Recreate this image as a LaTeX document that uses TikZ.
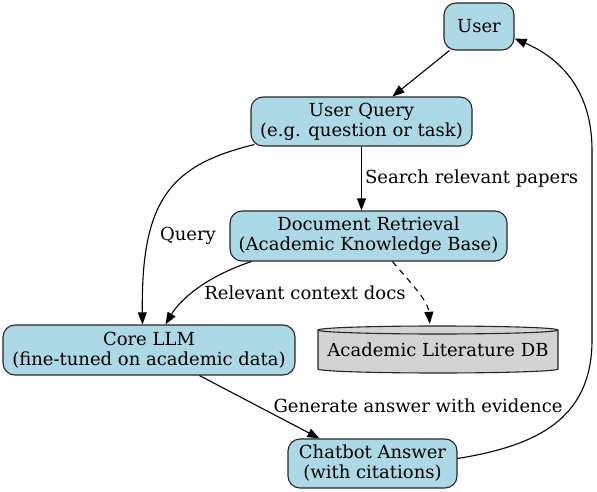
\documentclass[tikz,border=0pt]{standalone}
\usepackage{fontspec}
\setmainfont{DejaVu Serif}
\usetikzlibrary{arrows.meta,calc}
\definecolor{boxblue}{HTML}{ADD8E6}
\definecolor{dbgray}{HTML}{D3D3D3}
\begin{document}
\begin{tikzpicture}[x=1pt,y=-1pt,
  box/.style={draw=black!85,fill=boxblue,line width=1.1pt,rounded corners=12pt,inner sep=0pt,align=center,font=\fontsize{18}{20}\selectfont},
  lbl/.style={font=\fontsize{18}{20}\selectfont,inner sep=0pt},
  arr/.style={line width=1.1pt,-{Triangle[length=12pt,width=9pt]}}]
\useasboundingbox[fill=white] (0,0) rectangle (597,492);
\node[box,minimum width=70pt,minimum height=47pt] (user) at (479,26.5) {User};
\node[box,minimum width=221pt,minimum height=49pt] (uq) at (361.5,121.5) {User Query\\(e.g. question or task)};
\node[box,minimum width=277pt,minimum height=50pt] (dr) at (368.5,236) {Document Retrieval\\(Academic Knowledge Base)};
\node[box,minimum width=292pt,minimum height=50pt] (llm) at (149,350) {Core LLM\\(fine-tuned on academic data)};
\node[box,minimum width=169pt,minimum height=49pt] (ans) at (372.5,463.5) {Chatbot Answer\\(with citations)};
% cylinder
\path[draw=black!85,fill=dbgray,line width=1.1pt] (318,330) -- (318,369) arc[start angle=180,end angle=0,x radius=120,y radius=4] -- (558,330) arc[start angle=0,end angle=-180,x radius=120,y radius=4] -- cycle;
\draw[black!85,line width=1.1pt] (318,330) arc[start angle=180,end angle=0,x radius=120,y radius=4];
\node[lbl,minimum width=240pt,minimum height=46pt] (db) at (438,350) {Academic Literature DB};
% edges
\draw[arr] ($(user.south west)+(6,0)$) -- ($(uq.north west)+(142,0)$);
\draw[arr] (uq.south) -- (uq.south |- dr.north) node[lbl,midway,right,xshift=3pt] (l1) {Search relevant papers};
\draw[arr] ($(uq.south west)+(4,-2)$) .. controls (170,165) and (141,200) .. ($(llm.north west)+(140,0)$);
\node[lbl] (l2) at (188,236) {Query};
\draw[arr] ($(dr.south west)+(22,0)$) .. controls (205,277) and (180,300) .. ($(llm.north west)+(163,0)$);
\node[lbl] (l3) at (305,293) {Relevant context docs};
\draw[arr,dashed,dash pattern=on 6pt off 5pt] ($(dr.south west)+(163,0)$) .. controls (408,280) and (428,300) .. ($(db.north west)+(112,-3)$);
\draw[arr] ($(llm.south west)+(197,0)$) -- ($(ans.north west)+(32,0)$);
\node[lbl] (l4) at (418,406) {Generate answer with evidence};
\draw[arr] ($(ans.east)+(0,-5)$) .. controls (535,446) and (592,420) .. (592,340) -- (592,150) .. controls (592,90) and (560,58) .. ($(user.south east)+(0,-12)$);
\end{tikzpicture}
\end{document}
